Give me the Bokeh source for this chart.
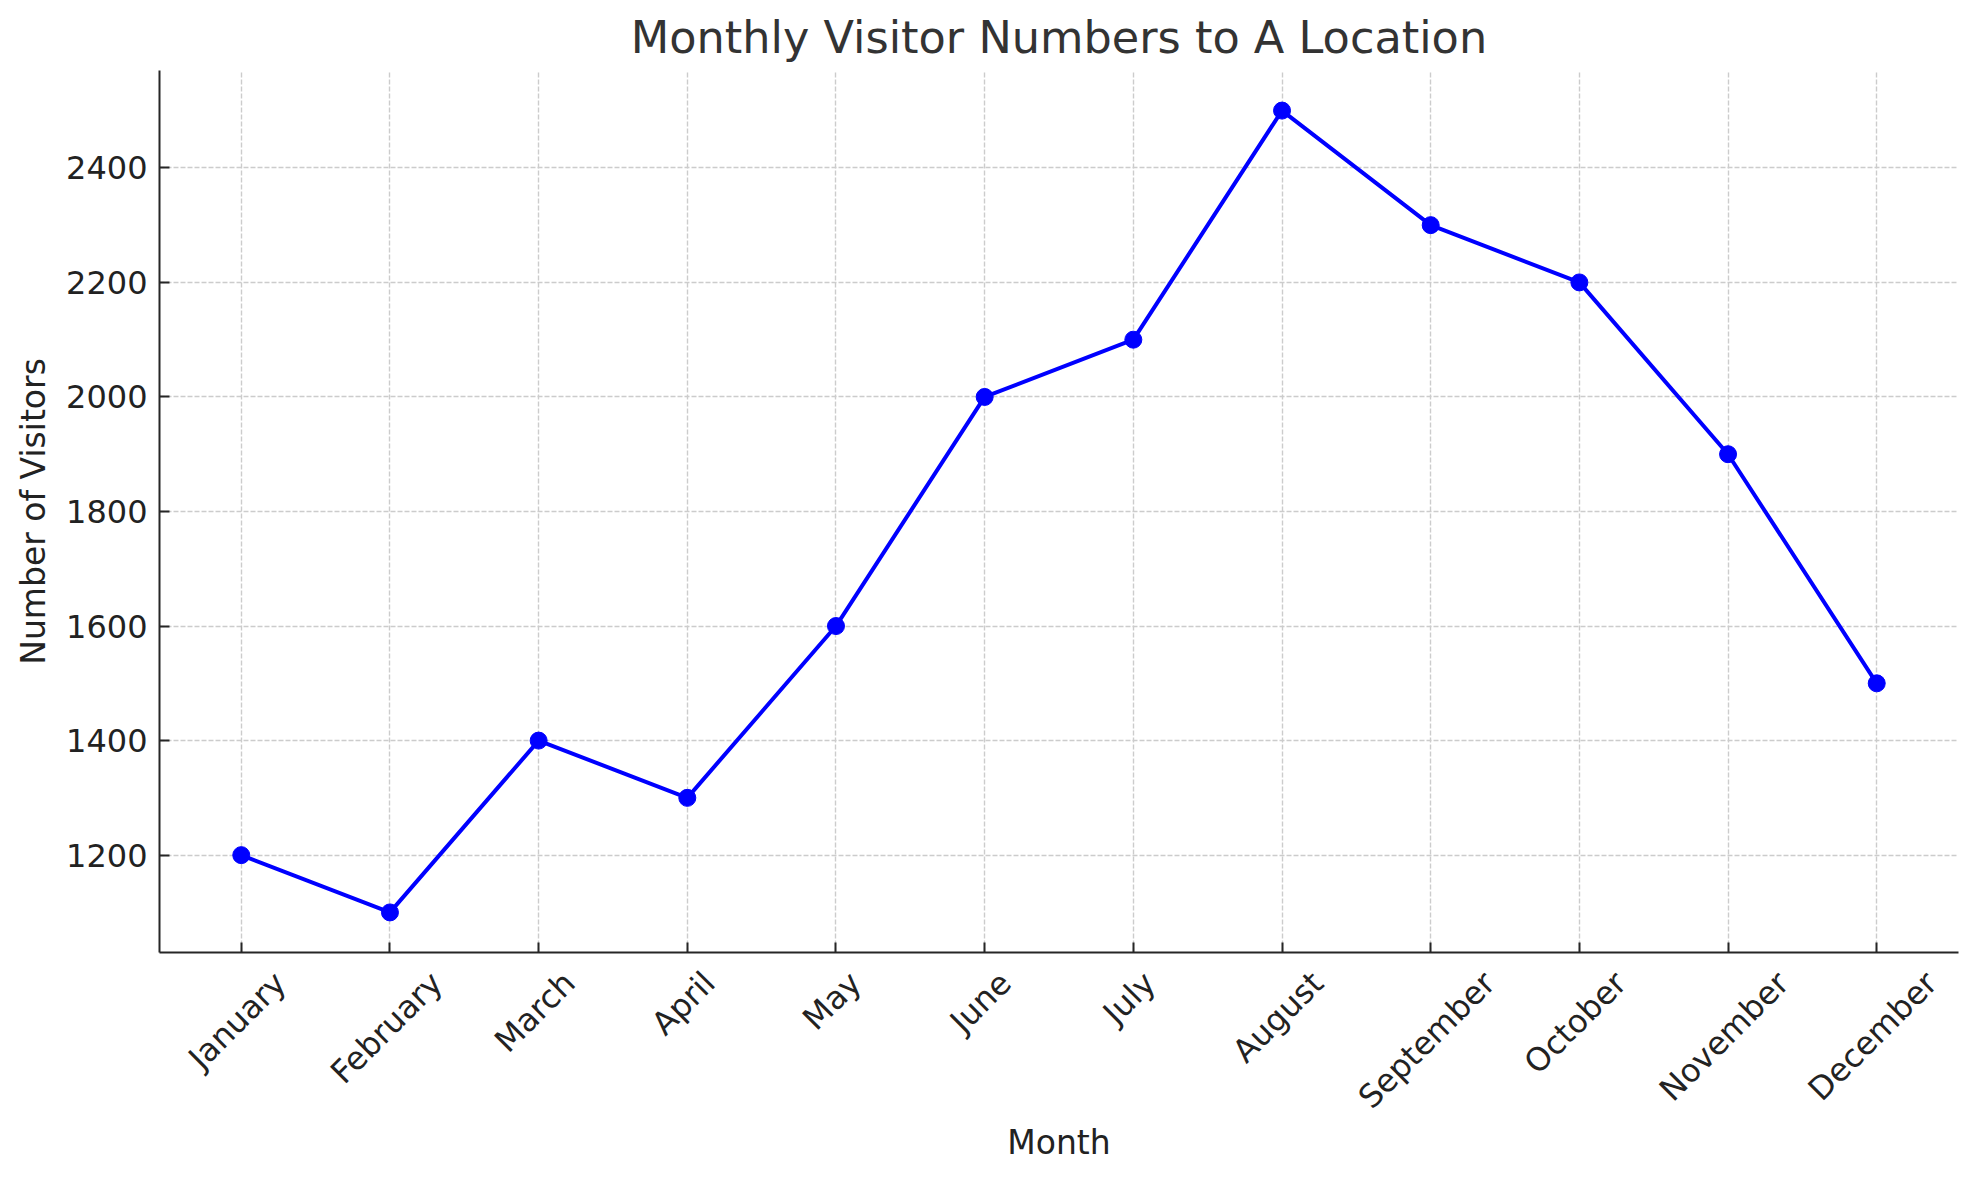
import math
from bokeh.plotting import figure
from bokeh.models import Range1d, FixedTicker, LinearAxis, CustomLabelingPolicy
from bokeh.embed import file_html
from bokeh.resources import INLINE

# ---- data ----
months = ["January", "February", "March", "April", "May", "June",
          "July", "August", "September", "October", "November", "December"]
visitors = [1200, 1100, 1400, 1300, 1600, 2000, 2100, 2500, 2300, 2200, 1900, 1500]
y_ticks = [1200, 1400, 1600, 1800, 2000, 2200, 2400]

title_text = "Monthly Visitor Numbers to A Location"
x_label = "Month"
y_label = "Number of Visitors"

FONT = "DejaVu Sans"
TICK_PX = 32
FRAME_W, FRAME_H = 1799, 882
x_idx = list(range(len(months)))

# ranges with 5% margins like the reference
lo, hi = min(visitors), max(visitors)
pad = (hi - lo) * 0.05
n = len(months)
x0, x1 = -0.05 * (n - 1), (n - 1) * 1.05

p = figure(
    frame_width=FRAME_W, frame_height=FRAME_H,
    min_border_left=159, min_border_right=3, min_border_top=70, min_border_bottom=5,
    x_range=Range1d(x0, x1),
    y_range=Range1d(lo - pad, hi + pad),
    output_backend="svg", toolbar_location=None,
    background_fill_color="white", border_fill_color="white",
)
p.outline_line_color = None

# title
p.title.text = title_text
p.title.text_font = FONT
p.title.text_font_size = "44.6px"
p.title.text_font_style = "normal"
p.title.text_color = "#333333"
p.title.align = "center"
p.title.standoff = 13

# grid
for g in (p.xgrid, p.ygrid):
    g.grid_line_color = "#cccccc"
    g.grid_line_dash = "5 2"
    g.grid_line_width = 1.4

# axes
def style(ax):
    ax.axis_line_color = "#262626"
    ax.axis_line_width = 2
    ax.major_tick_line_color = "#262626"
    ax.major_tick_line_width = 2
    ax.major_tick_in = 10
    ax.major_tick_out = 0
    ax.minor_tick_line_color = None
    ax.major_label_text_font = FONT
    ax.major_label_text_font_size = f"{TICK_PX}px"
    ax.major_label_text_color = "#222222"
    ax.axis_label_text_font = FONT
    ax.axis_label_text_font_size = "33px"
    ax.axis_label_text_font_style = "normal"
    ax.axis_label_text_color = "#222222"

style(p.xaxis[0])
style(p.yaxis[0])

p.yaxis.ticker = FixedTicker(ticks=y_ticks)
p.yaxis.major_label_standoff = 12
p.yaxis.axis_label = y_label
p.yaxis.axis_label_standoff = 10

# main x axis: spine + inward ticks only (its own labels are filtered out)
p.xaxis.ticker = FixedTicker(ticks=x_idx)
p.xaxis.major_label_policy = CustomLabelingPolicy(code="return new Set()")
p.xaxis.major_label_text_font_size = "1px"
p.xaxis.major_label_standoff = 0

# label axis: month names rotated 45 deg, centred on the ticks (matplotlib style)
W = {"J": 604, "a": 1255, "n": 1298, "u": 1298, "r": 842, "y": 1212, "F": 1176,
     "e": 1260, "b": 1300, "M": 1767, "c": 1126, "h": 1298, "A": 1401, "p": 1300,
     "i": 569, "l": 569, "g": 1300, "s": 1067, "t": 803, "S": 1300, "m": 1995,
     "O": 1612, "o": 1253, "N": 1532, "v": 1212, "D": 1577}
px_per_unit = FRAME_W / (x1 - x0)
c45 = math.cos(math.pi / 4)
label_pos = []
for i, m in zip(x_idx, months):
    w = sum(W.get(ch, 1200) for ch in m) / 2048 * TICK_PX
    label_pos.append(round(i + (w * c45 / 2 - 4) / px_per_unit, 4))

lab_ax = LinearAxis(
    ticker=FixedTicker(ticks=label_pos),
    major_label_overrides={pos: m for pos, m in zip(label_pos, months)},
    major_label_orientation=math.pi / 4,
    axis_label=x_label,
)
style(lab_ax)
lab_ax.axis_line_color = None
lab_ax.major_tick_line_color = None
lab_ax.major_tick_in = 0
lab_ax.major_tick_out = 0
lab_ax.major_label_standoff = 21
lab_ax.axis_label_standoff = -9
p.add_layout(lab_ax, "below")

# line + markers
p.line(x_idx, visitors, line_color="#0000ff", line_width=4)
p.scatter(x_idx, visitors, size=17, fill_color="#0000ff", line_color="#0000ff")

open("out.html", "w").write(file_html(p, INLINE))
